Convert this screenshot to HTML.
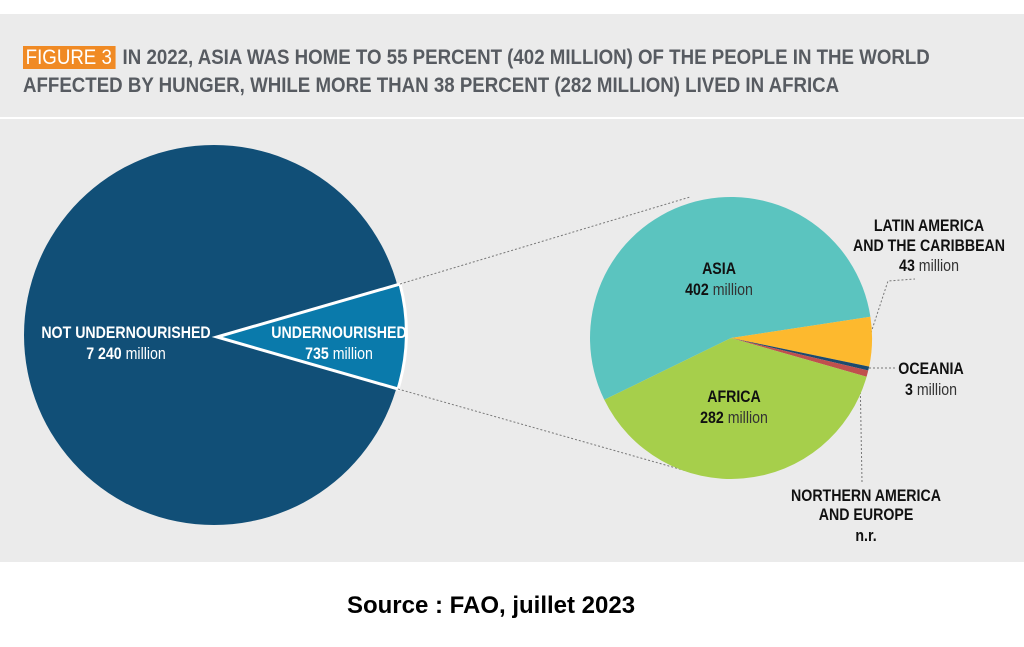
<!DOCTYPE html>
<html><head><meta charset="utf-8"><style>
body{margin:0;width:1024px;height:647px;background:#fff;overflow:hidden;position:relative;font-family:"Liberation Sans",sans-serif}
.top{position:absolute;left:0;top:14px;width:1024px;height:103px;background:#ebebeb}
.main{position:absolute;left:0;top:119px;width:1024px;height:443px;background:#ebebeb}
.t{position:absolute;left:23px;font-weight:bold;font-size:21px;color:#575b61;white-space:nowrap;transform:scaleX(0.89);transform-origin:0 0}
.fig{background:#f08a24;color:#fff;font-weight:normal;padding:0 4px 0 3px;margin-right:8px}
.src{position:absolute;left:0;width:982px;top:592px;text-align:center;font-weight:bold;font-size:24px;color:#000}
</style></head><body>
<div class="top"></div>
<div class="main"></div>
<div class="t" style="top:46px"><span class="fig">FIGURE 3</span>IN 2022, ASIA WAS HOME TO 55 PERCENT (402 MILLION) OF THE PEOPLE IN THE WORLD</div>
<div class="t" style="top:74px">AFFECTED BY HUNGER, WHILE MORE THAN 38 PERCENT (282 MILLION) LIVED IN AFRICA</div>
<svg width="1024" height="647" style="position:absolute;left:0;top:0" font-family="Liberation Sans, sans-serif">
<circle cx="214" cy="335" r="190" fill="#114f77"/>
<path d="M217,337 L400,284 A190,190 0 0 1 398,389 Z" fill="#0a7aab" stroke="#fff" stroke-width="3"/>
<g stroke="#777" stroke-width="1" stroke-dasharray="2,2" fill="none">
<line x1="400" y1="284" x2="690" y2="197"/>
<line x1="398" y1="389" x2="690" y2="472"/>
<polyline points="866,348 888,281 915,279"/>
<line x1="861" y1="368" x2="897" y2="368"/>
<line x1="860" y1="372" x2="862" y2="482"/>
</g>
<g transform="translate(731,338)">
<path d="M0,0 L-126.7,61.8 A141,141 0 1 1 139.4,-21.3 Z" fill="#5bc4bf"/>
<path d="M0,0 L139.4,-21.3 A141,141 0 0 1 138.2,28.6 Z" fill="#fdb92e"/>
<path d="M0,0 L138.2,28.6 A141,141 0 0 1 137.2,32.5 Z" fill="#1c4a6e"/>
<path d="M0,0 L137.2,32.5 A141,141 0 0 1 135.6,38.7 Z" fill="#c0504d"/>
<path d="M0,0 L135.6,38.7 A141,141 0 0 1 -126.7,61.8 Z" fill="#a6cf4b"/>
</g>
<g font-size="16.5" font-weight="bold" fill="#fff" text-anchor="middle">
<text transform="translate(126,338) scale(0.86,1)">NOT UNDERNOURISHED</text>
<text transform="translate(126,359) scale(0.86,1)">7 240 <tspan font-weight="normal">million</tspan></text>
<text transform="translate(339,338) scale(0.86,1)">UNDERNOURISHED</text>
<text transform="translate(339,359) scale(0.86,1)">735 <tspan font-weight="normal">million</tspan></text>
</g>
<g font-size="16.5" font-weight="bold" fill="#111" text-anchor="middle">
<text transform="translate(719,274) scale(0.86,1)">ASIA</text>
<text transform="translate(719,295) scale(0.86,1)">402 <tspan font-weight="normal" fill="#333">million</tspan></text>
<text transform="translate(734,402) scale(0.86,1)">AFRICA</text>
<text transform="translate(734,423) scale(0.86,1)">282 <tspan font-weight="normal" fill="#333">million</tspan></text>
<text transform="translate(929,231) scale(0.86,1)">LATIN AMERICA</text>
<text transform="translate(929,251) scale(0.86,1)">AND THE CARIBBEAN</text>
<text transform="translate(929,271) scale(0.86,1)">43 <tspan font-weight="normal" fill="#333">million</tspan></text>
<text transform="translate(931,374) scale(0.86,1)">OCEANIA</text>
<text transform="translate(931,395) scale(0.86,1)">3 <tspan font-weight="normal" fill="#333">million</tspan></text>
<text transform="translate(866,501) scale(0.86,1)">NORTHERN AMERICA</text>
<text transform="translate(866,520) scale(0.86,1)">AND EUROPE</text>
<text transform="translate(866,541) scale(0.86,1)">n.r.</text>
</g>
</svg>
<div class="src">Source : FAO, juillet 2023</div>
</body></html>
